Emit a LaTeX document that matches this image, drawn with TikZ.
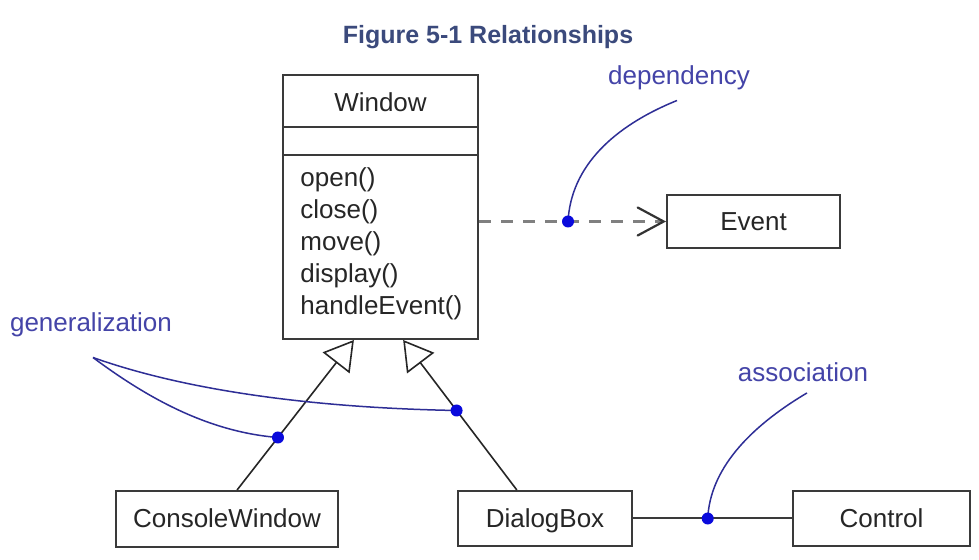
\documentclass[tikz,border=0pt]{standalone}
\usepackage{fontspec}
\setmainfont{Liberation Sans}
\usetikzlibrary{arrows.meta,calc}
\definecolor{titleblue}{HTML}{3B4A7C}
\definecolor{notetext}{HTML}{4444A8}
\definecolor{noteline}{HTML}{2E2E96}
\definecolor{notedot}{HTML}{0A0ADC}
\definecolor{boxline}{HTML}{3A3A3A}
\tikzset{line cap=round,line join=round}
\tikzset{
    classbox/.style={draw=boxline,line width=1pt,fill=white,text=black!85,font=\fontsize{13}{16}\selectfont,inner sep=0pt,text height=0.86em,text depth=0pt},
    method/.style={text=black!85,font=\fontsize{13}{16}\selectfont,inner sep=0pt,anchor=west},
    note/.style={text=notetext,font=\fontsize{13}{16}\selectfont,inner sep=0pt},
    noteline/.style={draw=noteline,line width=0.75pt},
    notedot/.style={fill=notedot},
    generalize/.style={draw=black!85,line width=0.8pt,-{Triangle[open,length=14.5pt,width=17pt,fill=white]}},
    depends/.style={draw=black!50,line width=1.1pt,line cap=butt,dash pattern=on 6pt off 5pt,-{Straight Barb[length=13pt,width=14pt,color=black!80,line cap=round]}},
}

\begin{document}
\begin{tikzpicture}[x=0.5pt,y=-0.5pt]
    \fill[white] (0,0) rectangle (979,560);
    \useasboundingbox (0,0) rectangle (979,560);
    \node[font=\bfseries\fontsize{12.5}{15}\selectfont,text=titleblue] (title) at (488,37) {Figure 5-1 Relationships};
    % class boxes
    \node[classbox,minimum width=97.5pt,minimum height=132pt] (window) at (380.5,207) {};
    \node[classbox,draw=none,fill=none] (winname) at (380.5,103) {Window};
    \draw[boxline,line width=1pt] ($(window.north west)+(0,53)$) -- ($(window.north east)+(0,53)$)
        ($(window.north west)+(0,81)$) -- ($(window.north east)+(0,81)$);
    \foreach \m [count=\i] in {open(),close(),move(),display(),handleEvent()}{%
        \node[method] (meth\i) at (300,{148+32*\i}) {\m};
    }
    \node[classbox,minimum width=86.5pt,minimum height=26.5pt] (event) at (753.5,221.5) {Event};
    \node[classbox,minimum width=111pt,minimum height=28pt] (console) at (227,519) {ConsoleWindow};
    \node[classbox,minimum width=87pt,minimum height=27.5pt] (dialog) at (545,518.5) {DialogBox};
    \node[classbox,minimum width=88.5pt,minimum height=27pt] (control) at (881.5,518.5) {Control};
    % relationships
    \draw[depends] (window.east |- event.west) -- coordinate[pos=0.476] (depdot) (event.west);
    \draw[generalize] ($(console.north west)!0.545!(console.north east)$) -- coordinate[pos=0.35] (gendotA)
        ($(window.south west)!0.365!(window.south east)$);
    \draw[generalize] ($(dialog.north west)!0.34!(dialog.north east)$) -- coordinate[pos=0.53] (gendotB)
        ($(window.south west)!0.615!(window.south east)$);
    \draw[boxline,line width=1pt] (dialog.east) -- coordinate[pos=0.47] (assocdot) (control.west);
    % notes
    \node[note] (deplabel) at (679,78) {dependency};
    \node[note] (genlabel) at (91,325) {generalization};
    \node[note] (assoclabel) at (803,372) {association};
    \coordinate (deptail) at ($(deplabel.south)+(-2,10)$);
    \coordinate (genroot) at ($(genlabel.south)+(2,20)$);
    \coordinate (assoctail) at ($(assoclabel.south)+(4,11)$);
    \draw[noteline] (depdot) .. controls (571,166) and (614,126) .. (deptail);
    \draw[noteline] (genroot) .. controls (190,392) and (320,408) .. (gendotB);
    \draw[noteline] (genroot) .. controls (150,400) and (210,432) .. (gendotA);
    \draw[noteline] (assocdot) .. controls (710,470) and (748,428) .. (assoctail);
    \foreach \d in {depdot,gendotA,gendotB,assocdot}{\fill[notedot] (\d) circle (3pt);}
\end{tikzpicture}
\end{document}
